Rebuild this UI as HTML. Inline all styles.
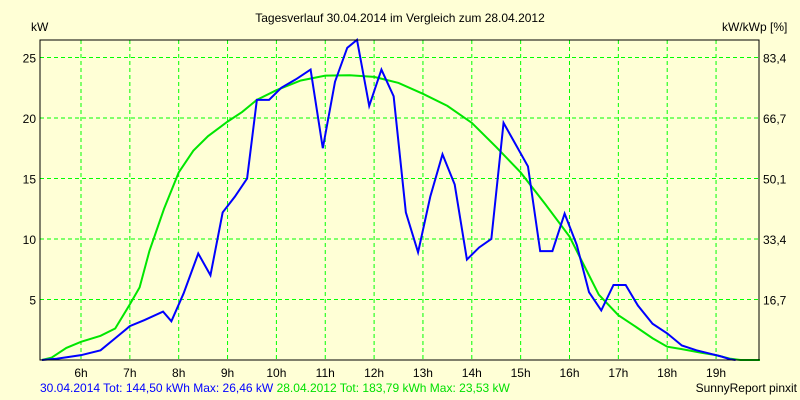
<!DOCTYPE html>
<html><head><meta charset="utf-8"><style>
body{margin:0;background:#FFFFD6;}
svg{display:block;font-family:"Liberation Sans",Arial,sans-serif;font-size:12px;}
</style></head><body>
<svg id="chart" width="800" height="400" viewBox="0 0 800 400">
<rect width="800" height="400" fill="#FFFFD6"/>
<text x="400" y="22" text-anchor="middle">Tagesverlauf 30.04.2014 im Vergleich zum 28.04.2012</text>
<text x="31" y="31">kW</text>
<text x="722" y="31">kW/kWp [%]</text>
<g id="grid"></g><g id="series"></g><g id="labels"></g>
<rect x="40" y="40" width="719" height="320" fill="none" stroke="#000" stroke-width="1"/>
<text x="40" y="392"><tspan fill="#0000FF">30.04.2014 Tot: 144,50 kWh Max: 26,46 kW</tspan><tspan fill="#00E000"> 28.04.2012 Tot: 183,79 kWh Max: 23,53 kW</tspan></text>
<text x="797" y="392" text-anchor="end">SunnyReport pinxit</text>
</svg>
<script>
const hourTicks=[6,7,8,9,10,11,12,13,14,15,16,17,18,19];
const yTicks=[5,10,15,20,25];
const y2Labels=["16,7","33,4","50,1","66,7","83,4"];
const blueT=[5.2,5.5,6.0,6.4,6.7,7.0,7.3,7.68,7.85,8.1,8.4,8.65,8.9,9.15,9.4,9.6,9.85,10.1,10.4,10.7,10.95,11.2,11.45,11.65,11.9,12.15,12.4,12.65,12.9,13.15,13.4,13.65,13.9,14.15,14.4,14.65,14.9,15.15,15.4,15.65,15.9,16.15,16.4,16.65,16.9,17.15,17.4,17.7,18.0,18.3,18.6,18.9,19.1,19.3,19.4];
const blueV=[0,0.1,0.4,0.8,1.8,2.8,3.3,4.0,3.2,5.5,8.8,7.0,12.2,13.5,15,21.5,21.5,22.5,23.2,24,17.5,23,25.8,26.46,21,24,21.8,12.2,8.9,13.5,17,14.5,8.3,9.3,10,19.6,17.8,16,9,9,12.1,9.5,5.6,4.1,6.2,6.2,4.5,3.0,2.2,1.2,0.8,0.5,0.3,0.05,0];
const greenT=[5.2,5.4,5.7,6.0,6.4,6.7,7.0,7.2,7.4,7.7,8.0,8.3,8.6,9.0,9.3,9.6,10.0,10.5,11.0,11.5,12.0,12.5,13.0,13.5,14.0,14.5,15.0,15.5,16.0,16.3,16.6,17.0,17.3,17.7,18.0,18.3,18.7,19.0,19.3,19.5,19.9];
const greenV=[0,0.2,1.0,1.5,2.0,2.6,4.6,6.0,9,12.5,15.5,17.3,18.5,19.7,20.5,21.5,22.3,23.1,23.5,23.53,23.4,22.9,22.0,21.0,19.6,17.6,15.5,12.9,10.2,7.8,5.4,3.7,2.9,1.8,1.1,0.9,0.6,0.4,0.1,0,0];
const X=t=>81+(t-6)*48.85;
const Y=v=>360-v*12.1;
const NS="http://www.w3.org/2000/svg";
function mk(tag,attrs,parent){const e=document.createElementNS(NS,tag);for(const k in attrs)e.setAttribute(k,attrs[k]);document.getElementById(parent).appendChild(e);return e;}
hourTicks.forEach(h=>{
  const l=mk('line',{x1:X(h),x2:X(h),y1:40,y2:360,stroke:'#00FF00','stroke-dasharray':'4,3'},'grid');
  
  
  const t=mk('text',{x:X(h),y:377,'text-anchor':'middle'},'labels');
  t.textContent=h+'h';
  
  
});
yTicks.forEach((v,i)=>{
  const l=mk('line',{x1:40,x2:759,y1:Y(v),y2:Y(v),stroke:'#00FF00','stroke-dasharray':'4,3'},'grid');
  
  
  const t=mk('text',{x:36,y:Y(v)+5,'text-anchor':'end'},'labels');
  t.textContent=v;
  
  
  const t2=mk('text',{x:763,y:Y(v)+5},'labels');
  t2.textContent=y2Labels[i];
  
  
});
const gp=mk('polyline',{points:greenT.map((t,i)=>X(t)+','+Y(greenV[i])).join(' '),fill:'none',stroke:'#00E600','stroke-width':2},'series');


const bp=mk('polyline',{points:blueT.map((t,i)=>X(t)+','+Y(blueV[i])).join(' '),fill:'none',stroke:'#0000FF','stroke-width':2},'series');


</script>
</body></html>
